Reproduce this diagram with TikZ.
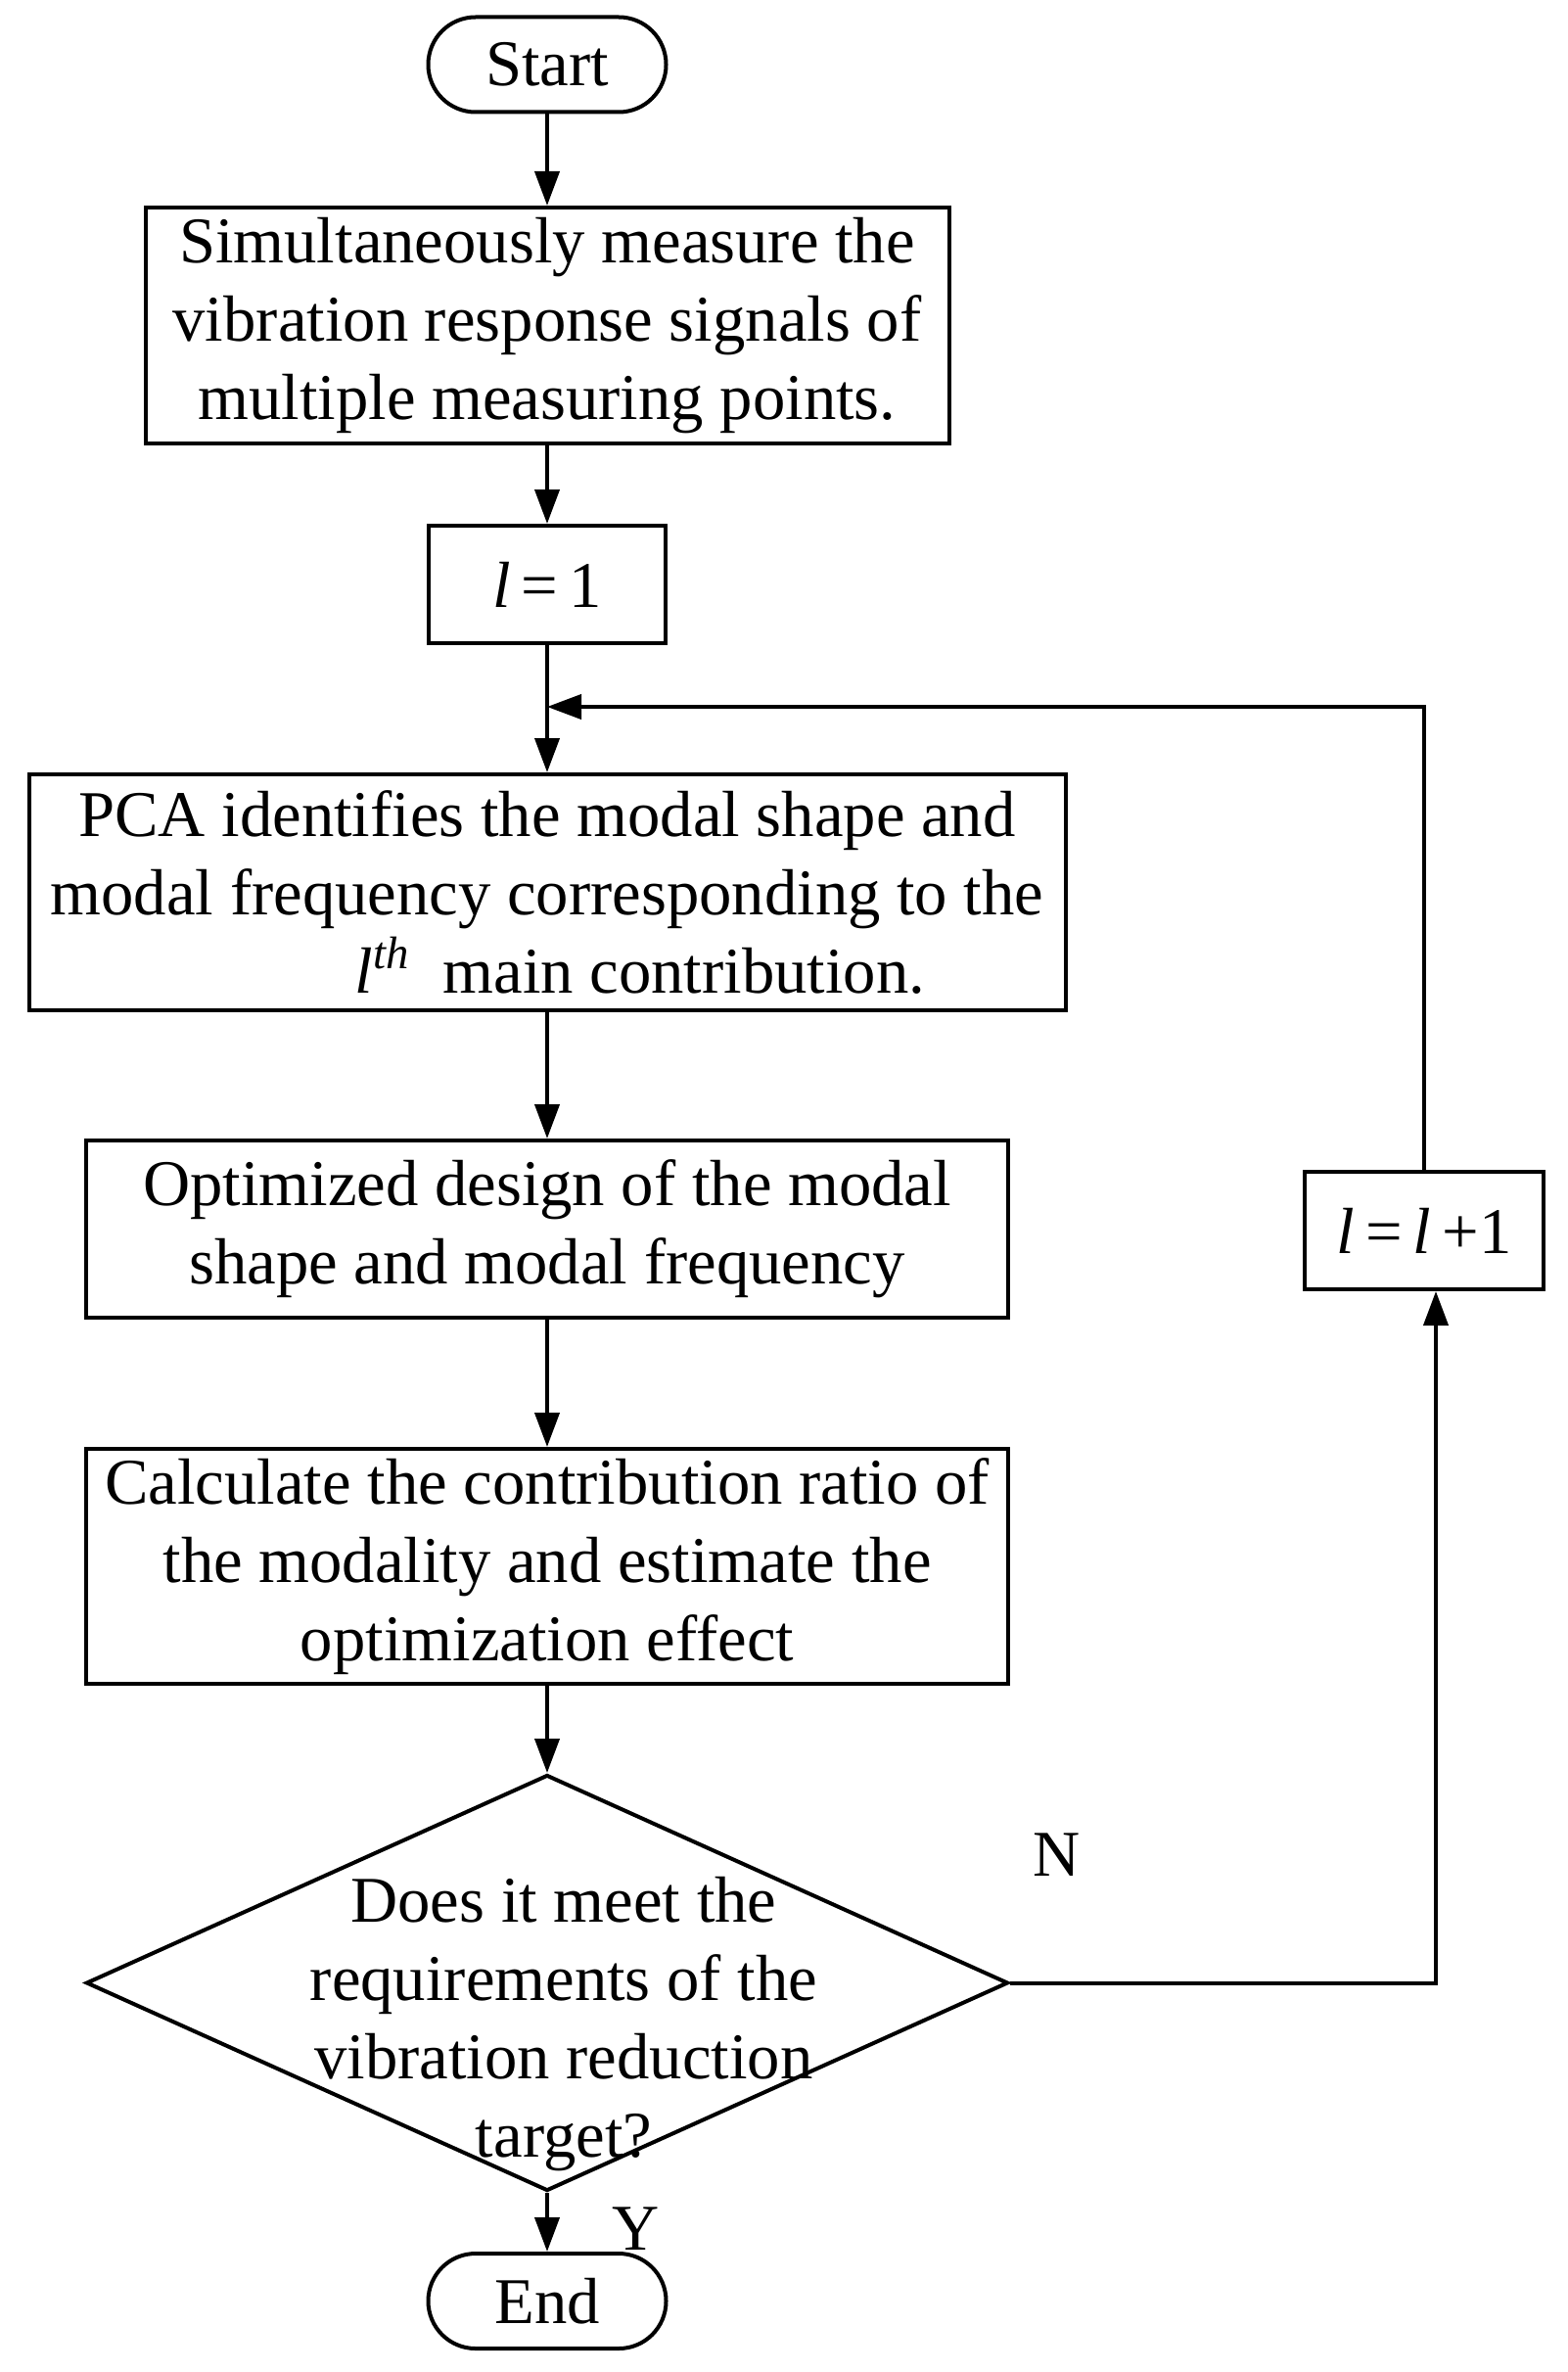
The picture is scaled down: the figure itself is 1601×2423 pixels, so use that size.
\documentclass[tikz,border=0pt]{standalone}
\usepackage{fontspec}
\setmainfont{Liberation Serif}
\usetikzlibrary{shapes.geometric,arrows.meta}
\begin{document}
\begin{tikzpicture}[x=0.3pt,y=-0.3pt,line width=1.2pt,
  >={Triangle[length=10.5pt,width=7.5pt]},
  every node/.style={font=\fontsize{20}{24}\selectfont},
  stepbox/.style={draw,rectangle,inner sep=0pt,align=center},
  terminal/.style={draw,rectangle,rounded corners=14.5pt,minimum width=72.9pt,minimum height=29.1pt,inner sep=0pt},
  decision/.style={draw,diamond,inner sep=0pt,minimum width=282.6pt,minimum height=127.5pt}]
\useasboundingbox (0,0) rectangle (1601,2423);
\node[terminal] (start) at (559,66) {Start};
\node[stepbox,minimum width=246.3pt,minimum height=72.3pt] (measure) at (559,332.5) {Simultaneously measure the\\vibration response signals of\\multiple measuring points.};
\node[stepbox,minimum width=72.6pt,minimum height=36pt] (init) at (559,597) {\textit{l}\,=\,1};
\node[stepbox,minimum width=317.7pt,minimum height=72.3pt] (pca) at (559,911.5) {PCA identifies the modal shape and\\modal frequency corresponding to the\\\hspace*{57pt}\textit{l}\textsuperscript{\textit{th}}\ \ main contribution.};
\node[stepbox,minimum width=282.6pt,minimum height=54.3pt] (opt) at (559,1255.5) {Optimized design of the modal\\shape and modal frequency};
\node[stepbox,minimum width=282.6pt,minimum height=72pt] (calc) at (559,1600) {Calculate the contribution ratio of\\the modality and estimate the\\optimization effect};
\node[decision] (dec) at (559,2025.5) {};
\node[align=center] (dectext) at (576,2068) {Does it meet the\\requirements of the\\vibration reduction\\target?};
\node[stepbox,minimum width=73.2pt,minimum height=36pt] (inc) at (1455,1257) {\textit{l}\,=\,\textit{l}\,+1};
\node[terminal] (end) at (559,2350.5) {End};
\node (N) at (1080,1895) {N};
\node (Y) at (650,2277) {Y};
% main chain
\draw[->] (start) -- (measure);
\draw[->] (measure) -- (init);
\draw[->] (init) -- (pca);
\draw[->] (pca) -- (opt);
\draw[->] (opt) -- (calc);
\draw[->] (calc) -- (dec);
\draw[->] (dec) -- (end);
% loop back
\coordinate (loop) at (559,722);
\coordinate (nturn) at (1467,2025.5);
\draw[->] (dec.east) -- (nturn) -- (nturn |- inc.south);
\draw[->] (inc.north) |- (loop);
\end{tikzpicture}
\end{document}
